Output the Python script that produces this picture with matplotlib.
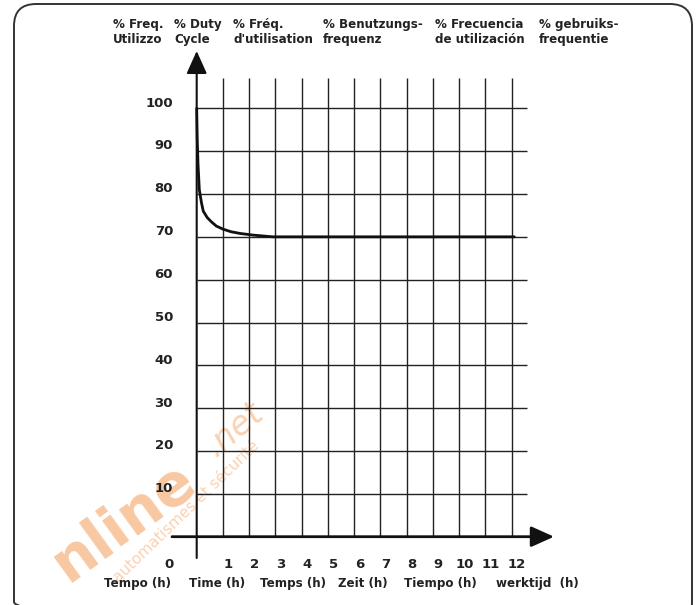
import matplotlib
matplotlib.use("Agg")
import matplotlib.pyplot as plt
from matplotlib.patches import FancyBboxPatch

# ---------------- data ----------------
hours = [1, 2, 3, 4, 5, 6, 7, 8, 9, 10, 11, 12]
hour_labels = ["1", "2", "3", "4", "5", "6", "7", "8", "9", "10", "11", "12"]
duty_levels = [10, 20, 30, 40, 50, 60, 70, 80, 90, 100]
duty_labels = ["10", "20", "30", "40", "50", "60", "70", "80", "90", "100"]
curve_time = [0.0, 0.02, 0.05, 0.1, 0.18, 0.25, 0.4, 0.56, 0.75, 1.0, 1.3, 1.64, 2.15, 2.9, 12.1]
curve_duty = [100, 93, 87, 81, 78, 76, 74.5, 73.5, 72.5, 71.8, 71.2, 70.8, 70.4, 70.0, 70.0]
y_titles = ["% Freq.\nUtilizzo", "% Duty\nCycle", "% Fréq.\nd'utilisation",
            "% Benutzungs-\nfrequenz", "% Frecuencia\nde utilización", "% gebruiks-\nfrequentie"]
x_titles = ["Tempo (h)", "Time (h)", "Temps (h)", "Zeit (h)", "Tiempo (h)", "werktijd  (h)"]

# ---------------- layout ----------------
W, H = 696, 605
X0, PX_H = 196.7, 26.25      # pixel of hour 0, pixels per hour
Y0, PX_V = 536.7, 4.284      # pixel (from top) of 0 %, pixels per %

FONT = "DejaVu Sans"
fig = plt.figure(figsize=(W / 100, H / 100), dpi=100)

# background axes in pixel coordinates (border, texts, watermark)
bg = fig.add_axes([0, 0, 1, 1])
bg.set_xlim(0, W)
bg.set_ylim(H, 0)
bg.axis("off")

# data axes
ax = fig.add_axes([0, 0, 1, 1])
ax.set_xlim(-X0 / PX_H, (W - X0) / PX_H)
ax.set_ylim(-(H - Y0) / PX_V, Y0 / PX_V)
ax.axis("off")
ax.patch.set_alpha(0)

def hx(px):
    return (px - X0) / PX_H

def vy(py):
    return (Y0 - py) / PX_V

# rounded border
bg.add_patch(FancyBboxPatch((14, 4), 678, 620, boxstyle="round,pad=0,rounding_size=22",
                            fill=False, ec="#333333", lw=1.4))

# watermark
bg.text(124, 522, "nline", fontsize=42, fontweight="bold", family=FONT, color="#f39a55",
        alpha=0.55, rotation=36, ha="center", va="center")
bg.text(234, 430, ".net", fontsize=24, family=FONT, color="#f39a55", alpha=0.45,
        rotation=40, ha="center", va="center", style="italic")
bg.text(186, 512, "automatismes et sécurité", fontsize=11, family=FONT, color="#f39a55",
        alpha=0.45, rotation=44, ha="center", va="center")

# grid
ax.vlines(hours, 0, vy(78), colors="#222222", lw=1.0)
ax.hlines(duty_levels, 0, hx(527), colors="#222222", lw=1.0)

# axes with arrows
ax.annotate("", xy=(hx(554), 0), xytext=(hx(172), 0),
            arrowprops=dict(arrowstyle="-|>,head_length=1.0,head_width=0.45", lw=2.0,
                            color="#111111", shrinkA=0, shrinkB=0, mutation_scale=14))
ax.annotate("", xy=(0, vy(51)), xytext=(0, vy(558)),
            arrowprops=dict(arrowstyle="-|>,head_length=1.0,head_width=0.45", lw=1.5,
                            color="#111111", shrinkA=0, shrinkB=0, mutation_scale=14))

# curve
ax.plot(curve_time, curve_duty, color="#111111", lw=2.0, solid_capstyle="round")

# tick labels
for h, lab in zip(hours, hour_labels):
    ax.text(h + 0.2, vy(564), lab, ha="center", va="center", fontsize=9.5,
            fontweight="bold", family=FONT, color="#222222")
ax.text(hx(169), vy(564), "0", ha="center", va="center", fontsize=9.5,
        fontweight="bold", family=FONT, color="#222222")
for v, lab in zip(duty_levels, duty_labels):
    ax.text(hx(173), v + 1.2, lab, ha="right", va="center", fontsize=9.5,
            fontweight="bold", family=FONT, color="#222222")

# titles
ytitle_x = [113, 174, 233, 323, 435, 539]
for x, t in zip(ytitle_x, y_titles):
    bg.text(x, 32, t, ha="left", va="center", fontsize=8.6, fontweight="bold",
            family=FONT, color="#222222", linespacing=1.15)
xtitle_x = [138, 217, 293, 363, 440, 537]
for x, t in zip(xtitle_x, x_titles):
    bg.text(x, 584, t, ha="center", va="center", fontsize=8.6, fontweight="bold",
            family=FONT, color="#222222")

fig.savefig("out.png", dpi=100)
